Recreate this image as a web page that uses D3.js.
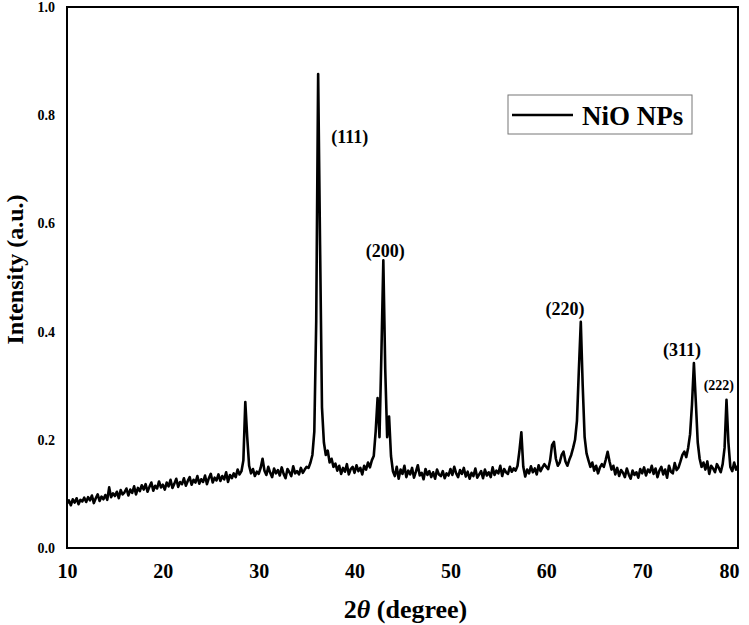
<!DOCTYPE html>
<html>
<head>
<meta charset="utf-8">
<script src="https://cdn.jsdelivr.net/npm/d3@7"></script>
<style>
  body { margin: 0; background: #fff; }
  svg text { font-family: "Liberation Serif", "Times New Roman", Times, "DejaVu Serif", serif !important; font-weight: bold; fill: #000; }
</style>
</head>
<body>
<div id="chart"></div>
<script>
// XRD pattern, sampled every 0.2 degree from 10 to 80 (one row = 2 degrees)
var thetaStart = 10, thetaStep = 0.2;
var intensity = [
  .082,.088,.079,.090,.084,.092,.081,.089,.086,.093,
  .085,.094,.088,.097,.083,.092,.099,.087,.095,.090,
  .098,.089,.112,.094,.101,.096,.104,.092,.107,.099,
  .103,.110,.097,.108,.102,.114,.099,.111,.105,.116,
  .108,.118,.104,.113,.121,.106,.115,.110,.123,.112,
  .117,.108,.121,.114,.126,.111,.119,.128,.113,.122,
  .118,.129,.115,.124,.131,.117,.126,.121,.133,.119,
  .127,.122,.134,.118,.129,.137,.121,.130,.125,.136,
  .124,.133,.127,.140,.122,.135,.129,.138,.131,.145,
  .136,.142,.162,.270,.205,.152,.138,.146,.133,.141,
  .137,.148,.165,.143,.135,.150,.139,.131,.147,.138,
  .144,.134,.149,.137,.129,.146,.140,.133,.151,.138,
  .142,.136,.148,.139,.145,.150,.148,.158,.172,.215,
  .420,.876,.560,.260,.195,.172,.180,.158,.165,.150,
  .156,.143,.152,.137,.148,.141,.155,.136,.146,.150,
  .139,.153,.142,.148,.136,.152,.145,.158,.149,.162,
  .170,.215,.277,.205,.360,.532,.330,.205,.243,.170,
  .142,.133,.150,.128,.145,.137,.152,.131,.143,.136,
  .148,.130,.141,.153,.134,.139,.127,.146,.135,.142,
  .131,.140,.128,.145,.136,.133,.142,.129,.138,.134,
  .146,.135,.150,.138,.131,.144,.137,.148,.132,.141,
  .128,.139,.133,.147,.130,.136,.142,.129,.145,.134,
  .140,.131,.149,.135,.143,.138,.152,.133,.146,.140,
  .137,.150,.141,.147,.143,.152,.180,.214,.150,.132,
  .145,.138,.151,.140,.147,.136,.153,.142,.149,.155,
  .150,.146,.162,.190,.196,.165,.152,.158,.172,.178,
  .160,.152,.163,.172,.185,.200,.235,.330,.418,.300,
  .205,.175,.162,.150,.158,.143,.152,.138,.149,.155,
  .150,.163,.178,.160,.145,.152,.136,.148,.133,.144,
  .139,.131,.147,.136,.128,.143,.135,.140,.130,.146,
  .138,.149,.134,.145,.140,.152,.137,.147,.131,.143,
  .150,.136,.145,.130,.152,.141,.138,.157,.144,.149,
  .160,.172,.178,.168,.185,.210,.265,.342,.270,.195,
  .165,.150,.158,.145,.160,.137,.152,.147,.140,.155,
  .148,.140,.155,.185,.274,.195,.150,.142,.158,.145,
  .152
];

// Miller index labels and where they sit (degree, intensity)
var hklLabels = ["(111)", "(200)", "(220)", "(311)", "(222)"];
var hklX = [39.5, 43.2, 61.95, 74.15, 78.0];
var hklY = [0.749, 0.538, 0.431, 0.355, 0.292];

var xTicks = [10, 20, 30, 40, 50, 60, 70, 80];
var yTicks = [0.0, 0.2, 0.4, 0.6, 0.8, 1.0];
var seriesName = "NiO NPs";

var FONT = '"Liberation Serif", "Times New Roman", Times, serif';

var width = 749, height = 625;
var margin = { top: 7, right: 11, bottom: 77, left: 67 };
var innerwidth = width - margin.left - margin.right,
    innerheight = height - margin.top - margin.bottom;

var data = intensity.map(function (v, i) { return [thetaStart + i * thetaStep, v]; });

var x_scale = d3.scaleLinear().domain([10, 80]).range([0, innerwidth]);
var y_scale = d3.scaleLinear().domain([0, 1]).range([innerheight, 0]);

var svg = d3.select("#chart").append("svg")
    .attr("width", width)
    .attr("height", height)
    .attr("font-family", FONT);

var g = svg.append("g")
    .attr("transform", "translate(" + margin.left + "," + margin.top + ")");

// x axis (labels only)
var x_axis = d3.axisBottom(x_scale).tickValues(xTicks).tickSize(0).tickPadding(16)
    .tickFormat(d3.format("d"));
var xg = g.append("g")
    .attr("transform", "translate(0," + innerheight + ")")
    .call(x_axis)
    .attr("font-family", FONT);
xg.select(".domain").remove();
xg.selectAll("text").style("font-size", "20px")
    .attr("dx", function (d) { return d === 80 ? "-9" : "0"; });

// y axis (labels only)
var y_axis = d3.axisLeft(y_scale).tickValues(yTicks).tickSize(0).tickPadding(12)
    .tickFormat(d3.format(".1f"));
var yg = g.append("g").call(y_axis)
    .attr("font-family", FONT);
yg.select(".domain").remove();
yg.selectAll("text").style("font-size", "14px");

// line
var draw_line = d3.line()
    .x(function (d) { return x_scale(d[0]); })
    .y(function (d) { return y_scale(d[1]); });

g.append("path")
    .datum(data)
    .attr("fill", "none")
    .attr("stroke", "#000")
    .attr("stroke-width", 2.6)
    .attr("stroke-linejoin", "round")
    .attr("d", draw_line);

// frame
g.append("rect")
    .attr("width", innerwidth)
    .attr("height", innerheight)
    .attr("fill", "none")
    .attr("stroke", "#000")
    .attr("stroke-width", 2);

// peak labels
g.selectAll(".hkl")
    .data(hklLabels)
    .enter().append("text")
    .attr("class", "hkl")
    .attr("x", function (d, i) { return x_scale(hklX[i]); })
    .attr("y", function (d, i) { return y_scale(hklY[i]); })
    .attr("text-anchor", "middle")
    .style("font-size", function (d) { return d === "(222)" ? "14px" : "18px"; })
    .text(function (d) { return d; });

// axis titles
svg.append("text")
    .attr("x", margin.left + innerwidth / 2 + 3)
    .attr("y", 618)
    .attr("text-anchor", "middle")
    .style("font-size", "26px")
    .html('2<tspan font-style="italic">θ</tspan> (degree)');

svg.append("text")
    .attr("transform", "translate(23," + (margin.top + innerheight / 2 - 8) + ") rotate(-90)")
    .attr("text-anchor", "middle")
    .style("font-size", "24px")
    .text("Intensity (a.u.)");

// legend
var legend = svg.append("g").attr("transform", "translate(508,95)");
legend.append("rect")
    .attr("width", 184)
    .attr("height", 39)
    .attr("fill", "#fff")
    .attr("stroke", "#777")
    .attr("stroke-width", 1);
legend.append("line")
    .attr("x1", 4).attr("x2", 65)
    .attr("y1", 20).attr("y2", 20)
    .attr("stroke", "#000")
    .attr("stroke-width", 2.5);
legend.append("text")
    .attr("x", 74)
    .attr("y", 30)
    .style("font-size", "27px")
    .text(seriesName);
</script>
</body>
</html>
